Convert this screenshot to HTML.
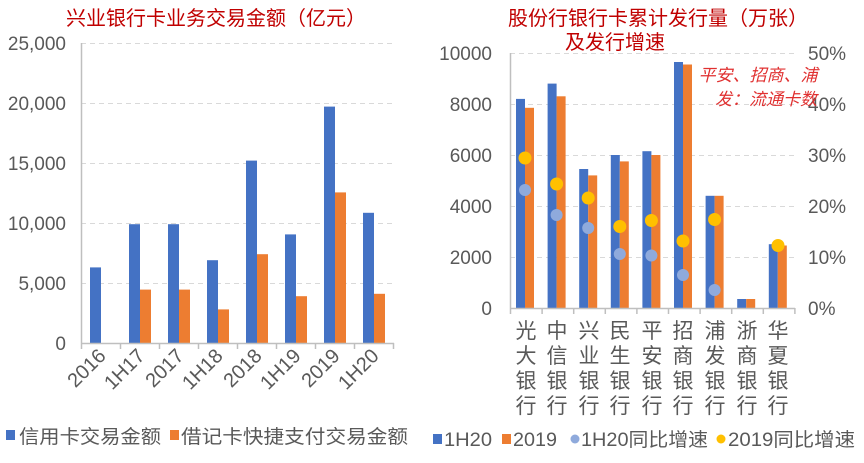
<!DOCTYPE html>
<html><head><meta charset="utf-8"><style>
body{margin:0;background:#fff;}
svg text{font-family:"Liberation Sans","Noto Sans CJK SC",sans-serif;}
</style></head><body>
<svg width="864" height="458" xmlns="http://www.w3.org/2000/svg">
<rect width="864" height="458" fill="#fff"/>
<!-- Left chart -->
<text x="216" y="25" font-size="20" fill="#c00000" text-anchor="middle">兴业银行卡业务交易金额（亿元）</text>
<g stroke="#d9d9d9" stroke-dasharray="5,4" stroke-width="1">
<line x1="81" x2="394" y1="43.5" y2="43.5"/><line x1="81" x2="394" y1="103.5" y2="103.5"/>
<line x1="81" x2="394" y1="163.5" y2="163.5"/><line x1="81" x2="394" y1="223.5" y2="223.5"/>
<line x1="81" x2="394" y1="283.5" y2="283.5"/>
</g>
<g font-size="19" fill="#595959" text-anchor="end">
<text x="66" y="50">25,000</text><text x="66" y="110">20,000</text><text x="66" y="170">15,000</text>
<text x="66" y="230">10,000</text><text x="66" y="290">5,000</text><text x="66" y="350">0</text>
</g>
<g fill="#4472c4">
<rect x="90" y="267.4" width="11" height="75.6"/><rect x="129" y="224.2" width="11" height="118.8"/>
<rect x="168" y="224.2" width="11" height="118.8"/><rect x="207" y="260.2" width="11" height="82.8"/>
<rect x="246" y="160.6" width="11" height="182.4"/><rect x="285" y="234.4" width="11" height="108.6"/>
<rect x="324" y="106.6" width="11" height="236.4"/><rect x="363" y="212.8" width="11" height="130.2"/>
</g>
<g fill="#ed7d31">
<rect x="140" y="289.6" width="11" height="53.4"/><rect x="179" y="289.6" width="11" height="53.4"/>
<rect x="218" y="309.4" width="11" height="33.6"/><rect x="257" y="254.2" width="11" height="88.8"/>
<rect x="296" y="296.2" width="11" height="46.8"/><rect x="335" y="192.4" width="11" height="150.6"/>
<rect x="374" y="293.8" width="11" height="49.2"/>
</g>
<g stroke="#bfbfbf" stroke-width="1.5">
<line x1="81.5" y1="43" x2="81.5" y2="343"/><line x1="81" y1="343.5" x2="394" y2="343.5"/>
<line x1="81.5" y1="343" x2="81.5" y2="349"/><line x1="120.5" y1="343" x2="120.5" y2="349"/>
<line x1="159.5" y1="343" x2="159.5" y2="349"/><line x1="198.5" y1="343" x2="198.5" y2="349"/>
<line x1="237.5" y1="343" x2="237.5" y2="349"/><line x1="276.5" y1="343" x2="276.5" y2="349"/>
<line x1="315.5" y1="343" x2="315.5" y2="349"/><line x1="354.5" y1="343" x2="354.5" y2="349"/>
<line x1="393.5" y1="343" x2="393.5" y2="349"/>
</g>
<g font-size="20" fill="#595959" text-anchor="end">
<text transform="translate(107,357) rotate(-45)">2016</text>
<text transform="translate(146,357) rotate(-45)">1H17</text>
<text transform="translate(185,357) rotate(-45)">2017</text>
<text transform="translate(224,357) rotate(-45)">1H18</text>
<text transform="translate(263,357) rotate(-45)">2018</text>
<text transform="translate(302,357) rotate(-45)">1H19</text>
<text transform="translate(341,357) rotate(-45)">2019</text>
<text transform="translate(380,357) rotate(-45)">1H20</text>
</g>
<rect x="6" y="430" width="9" height="10" fill="#4472c4"/>
<text x="19" y="443" font-size="19" fill="#595959" textLength="142" lengthAdjust="spacingAndGlyphs">信用卡交易金额</text>
<rect x="170" y="430" width="9" height="10" fill="#ed7d31"/>
<text x="181" y="443" font-size="19" fill="#595959" textLength="227" lengthAdjust="spacingAndGlyphs">借记卡快捷支付交易金额</text>

<!-- Right chart -->
<text x="658" y="25" font-size="20" fill="#c00000" text-anchor="middle">股份行银行卡累计发行量（万张）</text>
<text x="615" y="49" font-size="20" fill="#c00000" text-anchor="middle">及发行增速</text>
<g stroke="#d9d9d9" stroke-dasharray="5,4" stroke-width="1">
<line x1="510" x2="795" y1="53.5" y2="53.5"/><line x1="510" x2="795" y1="104.5" y2="104.5"/>
<line x1="510" x2="795" y1="155.5" y2="155.5"/><line x1="510" x2="795" y1="206.5" y2="206.5"/>
<line x1="510" x2="795" y1="257.5" y2="257.5"/>
</g>
<g font-size="19" fill="#595959" text-anchor="end">
<text x="492" y="60">10000</text><text x="492" y="111">8000</text><text x="492" y="162">6000</text>
<text x="492" y="213">4000</text><text x="492" y="264">2000</text><text x="492" y="315">0</text>
</g>
<g font-size="19" fill="#595959">
<text x="808" y="60">50%</text><text x="808" y="111">40%</text><text x="808" y="162">30%</text>
<text x="808" y="213">20%</text><text x="808" y="264">10%</text><text x="808" y="315">0%</text>
</g>
<g fill="#4472c4">
<rect x="516" y="98.9" width="9" height="209.1"/><rect x="547.6" y="83.6" width="9" height="224.4"/>
<rect x="579.2" y="169" width="9" height="139"/><rect x="610.8" y="155" width="9" height="153"/>
<rect x="642.4" y="151.2" width="9" height="156.8"/><rect x="674" y="62" width="9" height="246"/>
<rect x="705.6" y="195.8" width="9" height="112.2"/><rect x="737.2" y="299" width="9" height="9"/>
<rect x="768.8" y="244.2" width="9" height="63.8"/>
</g>
<g fill="#ed7d31">
<rect x="525" y="107.8" width="9" height="200.2"/><rect x="556.6" y="96.3" width="9" height="211.7"/>
<rect x="588.2" y="175.4" width="9" height="132.6"/><rect x="619.8" y="161.4" width="9" height="146.6"/>
<rect x="651.4" y="155" width="9" height="153"/><rect x="683" y="64.5" width="9" height="243.5"/>
<rect x="714.6" y="195.8" width="9" height="112.2"/><rect x="746.2" y="299" width="9" height="9"/>
<rect x="777.8" y="245.5" width="9" height="62.5"/>
</g>
<g fill="#8faadc">
<circle cx="525" cy="190" r="6"/><circle cx="556.6" cy="215" r="6"/><circle cx="588.2" cy="228" r="6"/>
<circle cx="619.8" cy="254" r="6"/><circle cx="651.4" cy="255.5" r="6"/><circle cx="683" cy="275" r="6"/>
<circle cx="714.6" cy="290" r="6"/>
</g>
<g fill="#ffc000">
<circle cx="525" cy="158" r="6.5"/><circle cx="556.6" cy="184" r="6.5"/><circle cx="588.2" cy="198" r="6.5"/>
<circle cx="619.8" cy="226.5" r="6.5"/><circle cx="651.4" cy="220.5" r="6.5"/><circle cx="683" cy="241" r="6.5"/>
<circle cx="714.6" cy="219.5" r="6.5"/><circle cx="778" cy="245.5" r="6.5"/>
</g>
<g stroke="#bfbfbf" stroke-width="1.5">
<line x1="510.5" y1="53" x2="510.5" y2="308"/><line x1="510" y1="308.5" x2="795" y2="308.5"/>
<line x1="510.5" y1="308" x2="510.5" y2="314"/><line x1="542.1" y1="308" x2="542.1" y2="314"/>
<line x1="573.7" y1="308" x2="573.7" y2="314"/><line x1="605.3" y1="308" x2="605.3" y2="314"/>
<line x1="636.9" y1="308" x2="636.9" y2="314"/><line x1="668.5" y1="308" x2="668.5" y2="314"/>
<line x1="700.1" y1="308" x2="700.1" y2="314"/><line x1="731.7" y1="308" x2="731.7" y2="314"/>
<line x1="763.3" y1="308" x2="763.3" y2="314"/><line x1="794.9" y1="308" x2="794.9" y2="314"/>
</g>
<g font-size="21" fill="#595959" text-anchor="middle">
<text x="526" y="338">光</text><text x="526" y="363">大</text><text x="526" y="388">银</text><text x="526" y="413">行</text>
<text x="557" y="338">中</text><text x="557" y="363">信</text><text x="557" y="388">银</text><text x="557" y="413">行</text>
<text x="589" y="338">兴</text><text x="589" y="363">业</text><text x="589" y="388">银</text><text x="589" y="413">行</text>
<text x="620" y="338">民</text><text x="620" y="363">生</text><text x="620" y="388">银</text><text x="620" y="413">行</text>
<text x="652" y="338">平</text><text x="652" y="363">安</text><text x="652" y="388">银</text><text x="652" y="413">行</text>
<text x="683" y="338">招</text><text x="683" y="363">商</text><text x="683" y="388">银</text><text x="683" y="413">行</text>
<text x="715" y="338">浦</text><text x="715" y="363">发</text><text x="715" y="388">银</text><text x="715" y="413">行</text>
<text x="747" y="338">浙</text><text x="747" y="363">商</text><text x="747" y="388">银</text><text x="747" y="413">行</text>
<text x="778" y="338">华</text><text x="778" y="363">夏</text><text x="778" y="388">银</text><text x="778" y="413">行</text>
</g>
<g font-size="17" fill="#e03030" font-style="italic" text-anchor="middle">
<text x="758" y="81">平安、招商、浦</text>
<text x="766" y="105">发：流通卡数</text>
</g>
<g font-size="19" fill="#595959">
<rect x="433" y="434" width="9" height="10" fill="#4472c4"/><text x="444" y="446" textLength="48" lengthAdjust="spacingAndGlyphs">1H20</text>
<rect x="502" y="434" width="9" height="10" fill="#ed7d31"/><text x="513" y="446" textLength="44" lengthAdjust="spacingAndGlyphs">2019</text>
<circle cx="575" cy="439" r="4.5" fill="#8faadc"/><text x="581" y="446" textLength="127" lengthAdjust="spacingAndGlyphs">1H20同比增速</text>
<circle cx="721" cy="439" r="4.5" fill="#ffc000"/><text x="728" y="446" textLength="127" lengthAdjust="spacingAndGlyphs">2019同比增速</text>
</g>
</svg>
</body></html>
